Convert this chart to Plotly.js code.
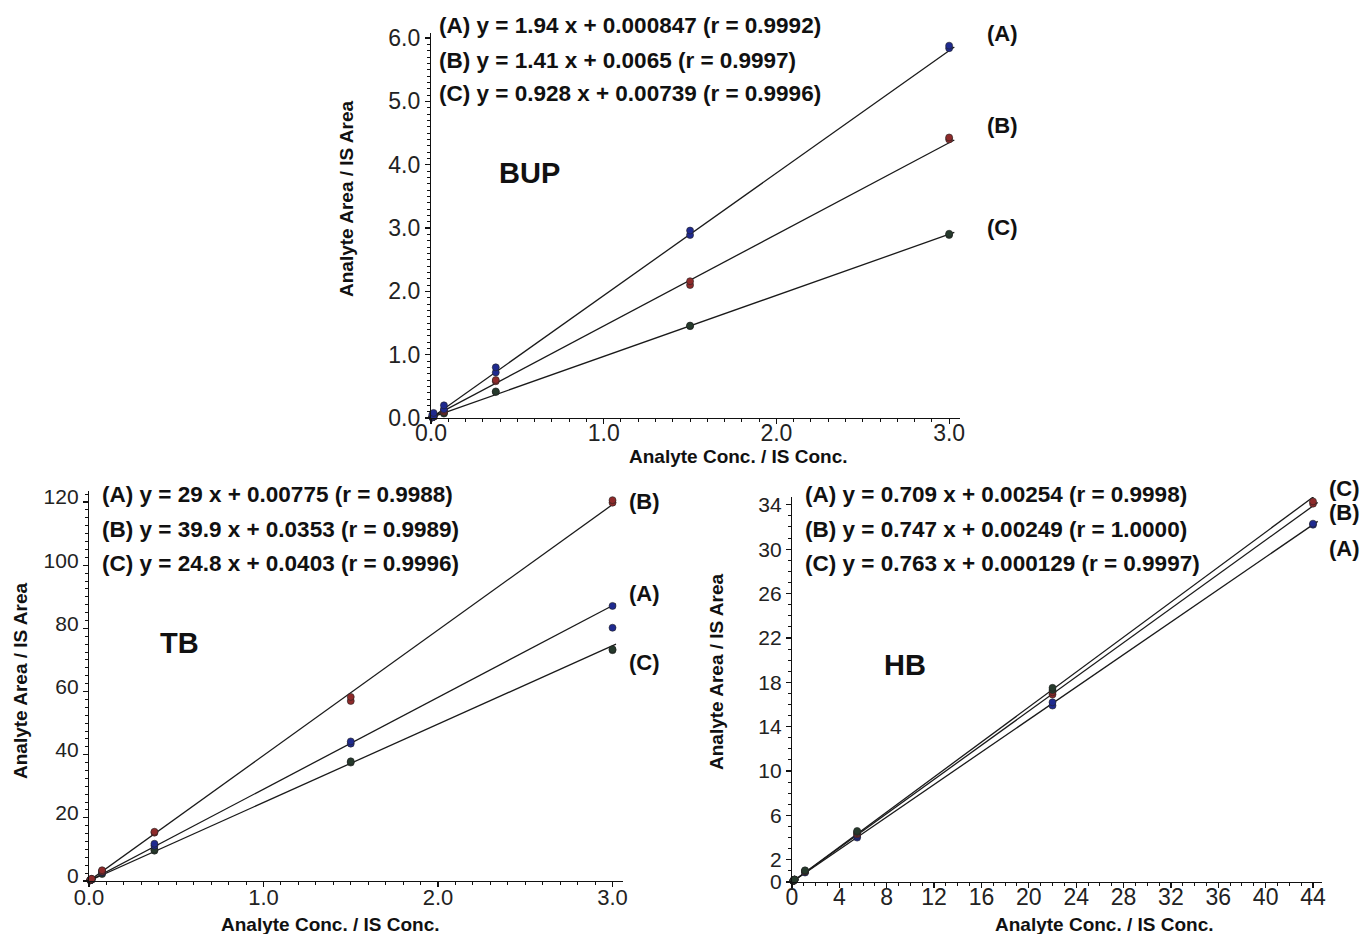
<!DOCTYPE html>
<html>
<head>
<meta charset="utf-8">
<script src="https://cdn.plot.ly/plotly-3.0.1.min.js"></script>
<style>html,body{margin:0;padding:0;background:#fff;}#chart{width:1360px;height:934px;}</style>
</head>
<body>
<div id="chart"></div>
<script>
// ---------- DATA ----------
// BUP
const bupX = [0.0075, 0.0075, 0.015, 0.015, 0.075, 0.075, 0.375, 0.375, 1.5, 1.5, 3.0, 3.0];
const bupA = [0.01, 0.05, 0.03, 0.08, 0.14, 0.20, 0.72, 0.80, 2.89, 2.96, 5.84, 5.88];
const bupB = [0.01, 0.02, 0.02, 0.03, 0.10, 0.12, 0.58, 0.60, 2.10, 2.16, 4.40, 4.43];
const bupC = [0.01, 0.01, 0.02, 0.02, 0.07, 0.08, 0.41, 0.42, 1.45, 1.46, 2.89, 2.91];
const bupFitX = [0, 3.03];
const bupFitA = [0.000847, 5.86];
const bupFitB = [0.0065, 4.39];
const bupFitC = [0.00739, 2.93];
const bupEq = ["(A) y = 1.94 x + 0.000847 (r = 0.9992)",
               "(B) y = 1.41 x + 0.0065 (r = 0.9997)",
               "(C) y = 0.928 x + 0.00739 (r = 0.9996)"];
const bupTicksX = [0, 1, 2, 3];
const bupTickTextX = ["0.0", "1.0", "2.0", "3.0"];
const bupTicksY = [0, 1, 2, 3, 4, 5, 6];
const bupTickTextY = ["0.0", "1.0", "2.0", "3.0", "4.0", "5.0", "6.0"];

// TB
const tbX = [0.0075, 0.0075, 0.015, 0.015, 0.075, 0.075, 0.375, 0.375, 1.5, 1.5, 3.0, 3.0];
const tbA = [0.2, 0.3, 0.5, 0.6, 2.8, 3.2, 11.2, 11.8, 43.5, 44.2, 87.1, 80.2];
const tbB = [0.3, 0.4, 0.6, 0.7, 3.0, 3.4, 15.3, 15.6, 57.0, 58.3, 119.8, 120.6];
const tbC = [0.2, 0.3, 0.4, 0.5, 2.2, 2.6, 9.6, 10.0, 37.5, 37.9, 73.1, 73.4];
const tbFitX = [0, 3.02];
const tbFitA = [0.00775, 87.8];
const tbFitB = [0.0353, 120.0];
const tbFitC = [0.0403, 75.0];
const tbEq = ["(A) y = 29 x + 0.00775 (r = 0.9988)",
              "(B) y = 39.9 x + 0.0353 (r = 0.9989)",
              "(C) y = 24.8 x + 0.0403 (r = 0.9996)"];
const tbTicksX = [0, 1, 2, 3];
const tbTickTextX = ["0.0", "1.0", "2.0", "3.0"];
const tbTicksY = [0, 20, 40, 60, 80, 100, 120];

// HB
const hbX = [0.11, 0.11, 0.22, 0.22, 1.1, 1.1, 5.5, 5.5, 22, 22, 44, 44];
const hbA = [0.1, 0.12, 0.2, 0.22, 0.85, 0.9, 4.0, 4.15, 15.9, 16.2, 32.2, 32.3];
const hbB = [0.1, 0.12, 0.2, 0.22, 0.95, 1.0, 4.3, 4.4, 16.9, 17.1, 34.1, 34.3];
const hbC = [0.1, 0.12, 0.2, 0.22, 1.0, 1.05, 4.5, 4.6, 17.3, 17.5, 35.0, 35.2];
const hbFitX = [0, 44.4];
const hbFitA = [0.00254, 32.5];
const hbFitB = [0.00249, 34.2];
const hbFitC = [0.000129, 35.0];
const hbEq = ["(A) y = 0.709 x + 0.00254 (r = 0.9998)",
              "(B) y = 0.747 x + 0.00249 (r = 1.0000)",
              "(C) y = 0.763 x + 0.000129 (r = 0.9997)"];
const hbTicksX = [0, 4, 8, 12, 16, 20, 24, 28, 32, 36, 40, 44];
const hbTicksY = [0, 2, 6, 10, 14, 18, 22, 26, 30, 34];

const seriesNames = ["(A)", "(B)", "(C)"];
const colA = "#1f2a8f", colB = "#8e2a2a", colC = "#263a2c";

// ---------- HELPERS ----------
const W = 1360, H = 934;
const px = x => x / W;
const py = y => 1 - y / H;
const FONT = "Liberation Sans, Arial, Helvetica, sans-serif";

function pts(x, y, col, xa, ya) {
  return {x: x, y: y, xaxis: xa, yaxis: ya, type: "scatter", mode: "markers",
    cliponaxis: false, hoverinfo: "skip",
    marker: {size: 7, color: col, line: {color: "#222", width: 0.6}}};
}
function fit(x, y, xa, ya) {
  return {x: x, y: y, xaxis: xa, yaxis: ya, type: "scatter", mode: "lines",
    cliponaxis: false, hoverinfo: "skip", line: {color: "#1a1a1a", width: 1.3}};
}
function axis(domain, range, extra) {
  return Object.assign({
    domain: domain, range: range, showgrid: false, zeroline: false,
    showline: true, linecolor: "#111", linewidth: 1.2,
    ticks: "outside", ticklen: 5, tickwidth: 1.2, tickcolor: "#111",
    tickfont: {family: FONT, size: 23, color: "#222"},
    fixedrange: true
  }, extra);
}
function ann(text, x, y, size, xanchor, extra) {
  return Object.assign({text: text, x: px(x), y: py(y), xref: "paper", yref: "paper",
    showarrow: false, xanchor: xanchor || "left", yanchor: "middle",
    font: {family: FONT, size: size, color: "#111"}}, extra || {});
}

// ---------- TRACES ----------
const traces = [
  fit(bupFitX, bupFitA, "x", "y"), fit(bupFitX, bupFitB, "x", "y"), fit(bupFitX, bupFitC, "x", "y"),
  pts(bupX, bupC, colC, "x", "y"), pts(bupX, bupB, colB, "x", "y"), pts(bupX, bupA, colA, "x", "y"),
  fit(tbFitX, tbFitA, "x2", "y2"), fit(tbFitX, tbFitB, "x2", "y2"), fit(tbFitX, tbFitC, "x2", "y2"),
  pts(tbX, tbC, colC, "x2", "y2"), pts(tbX, tbA, colA, "x2", "y2"), pts(tbX, tbB, colB, "x2", "y2"),
  fit(hbFitX, hbFitA, "x3", "y3"), fit(hbFitX, hbFitB, "x3", "y3"), fit(hbFitX, hbFitC, "x3", "y3"),
  pts(hbX, hbA, colA, "x3", "y3"), pts(hbX, hbB, colB, "x3", "y3"), pts(hbX, hbC, colC, "x3", "y3")
];

// ---------- LAYOUT ----------
const minor = (d) => ({dtick: d, tick0: 0, ticks: "outside", ticklen: 3, tickwidth: 1, tickcolor: "#111"});
const XSO = -11;

const layout = {
  width: W, height: H, margin: {l: 0, r: 0, t: 0, b: 0},
  paper_bgcolor: "#fff", plot_bgcolor: "rgba(0,0,0,0)", showlegend: false,
  font: {family: FONT, color: "#111"},
  xaxis: axis([px(431), px(959.5)], [0, 3.06], {anchor: "y", tickmode: "array", tickvals: bupTicksX, ticktext: bupTickTextX, minor: minor(0.1), ticklabelstandoff: XSO}),
  yaxis: axis([py(418), py(33)], [0, 6.08], {anchor: "x", tickmode: "array", tickvals: bupTicksY, ticktext: bupTickTextY, minor: minor(0.1)}),
  xaxis2: axis([px(89), px(623)], [0, 3.06], {anchor: "y2", tickmode: "array", tickvals: tbTicksX, ticktext: tbTickTextX, minor: minor(0.1), ticklabelstandoff: -9,
    tickfont: {family: FONT, size: 22, color: "#222"}}),
  yaxis2: axis([py(881), py(491)], [0, 123.5], {anchor: "x2", tickmode: "array", tickvals: tbTicksY, minor: minor(2.5), ticklabelshift: -5,
    tickfont: {family: FONT, size: 21, color: "#222"}}),
  xaxis3: axis([px(792), px(1322)], [0, 44.76], {anchor: "y3", tickmode: "array", tickvals: hbTicksX, minor: minor(1), ticklabelstandoff: XSO}),
  yaxis3: axis([py(882), py(497)], [0, 34.7], {anchor: "x3", tickmode: "array", tickvals: hbTicksY, minor: minor(1),
    tickfont: {family: FONT, size: 21, color: "#222"}}),
  annotations: [
    // BUP
    ann("<b>" + bupEq[0] + "</b>", 437, 26, 22.5), ann("<b>" + bupEq[1] + "</b>", 437, 60, 22.5), ann("<b>" + bupEq[2] + "</b>", 437, 94, 22.5),
    ann("<b>BUP</b>", 529, 173, 29, "center"),
    ann("<b>" + seriesNames[0] + "</b>", 985, 33, 22), ann("<b>" + seriesNames[1] + "</b>", 985, 125, 22), ann("<b>" + seriesNames[2] + "</b>", 985, 227, 22),
    ann("<b>Analyte Conc. / IS Conc.</b>", 739, 457, 19, "center"),
    ann("<b>Analyte Area / IS Area</b>", 346, 199, 19, "center", {textangle: -90}),
    // TB
    ann("<b>" + tbEq[0] + "</b>", 100, 494, 22.5), ann("<b>" + tbEq[1] + "</b>", 100, 529, 22.5), ann("<b>" + tbEq[2] + "</b>", 100, 563, 22.5),
    ann("<b>TB</b>", 179, 643, 29, "center"),
    ann("<b>" + seriesNames[1] + "</b>", 627, 502, 22), ann("<b>" + seriesNames[0] + "</b>", 627, 593, 22), ann("<b>" + seriesNames[2] + "</b>", 627, 662, 22),
    ann("<b>Analyte Conc. / IS Conc.</b>", 330, 924, 19, "center"),
    ann("<b>Analyte Area / IS Area</b>", 20, 681, 19, "center", {textangle: -90}),
    // HB
    ann("<b>" + hbEq[0] + "</b>", 803, 494, 22.5), ann("<b>" + hbEq[1] + "</b>", 803, 529, 22.5), ann("<b>" + hbEq[2] + "</b>", 803, 563, 22.5),
    ann("<b>HB</b>", 905, 665, 29, "center"),
    ann("<b>" + seriesNames[2] + "</b>", 1327, 489, 22), ann("<b>" + seriesNames[1] + "</b>", 1327, 512, 22), ann("<b>" + seriesNames[0] + "</b>", 1327, 548, 22),
    ann("<b>Analyte Conc. / IS Conc.</b>", 1104, 924, 19, "center"),
    ann("<b>Analyte Area / IS Area</b>", 716, 672, 19, "center", {textangle: -90})
  ]
};

Plotly.newPlot("chart", traces, layout, {displayModeBar: false, staticPlot: true});
</script>
</body>
</html>
